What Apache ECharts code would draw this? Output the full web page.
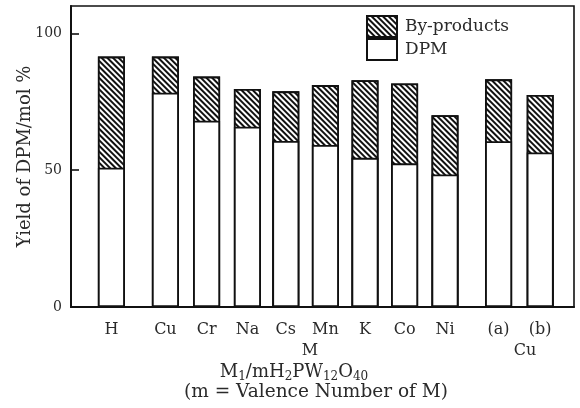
<!DOCTYPE html>
<html>
<head>
<meta charset="utf-8">
<script src="https://cdn.jsdelivr.net/npm/echarts@6/dist/echarts.min.js"></script>
<style>html,body{margin:0;padding:0;background:#fff}#c{width:580px;height:408px}</style>
</head>
<body>
<div id="c"></div>
<script>
const categories = ['H', 'Cu', 'Cr', 'Na', 'Cs', 'Mn', 'K', 'Co', 'Ni', '(a)', '(b)'];
const positions = [1.01, 2.36, 3.39, 4.41, 5.37, 6.36, 7.35, 8.34, 9.35, 10.69, 11.73];
const totalYield = [91.5, 91.5, 84.2, 79.7, 78.8, 81.1, 82.9, 81.7, 70.1, 83.2, 77.5];
const dpmYield = [50.9, 78.3, 68.1, 65.9, 60.7, 59.2, 54.5, 52.5, 48.4, 60.6, 56.5];
const yTickStep = 50;

const FONT = '"DejaVu Serif", "Liberation Serif", serif';
const TXT = '#2a2a2a';

const chart = echarts.init(document.getElementById('c'), null, {renderer: 'canvas'});
chart.setOption({
  animation: false,
  backgroundColor: '#fff',
  grid: {left: 71, right: 6, top: 6, bottom: 101, show: true, borderColor: '#111', borderWidth: 1.6, backgroundColor: 'transparent'},
  legend: {
    data: ['By-products', 'DPM'],
    orient: 'vertical',
    left: 361, top: 10,
    itemWidth: 30, itemHeight: 21, itemGap: 0,
    icon: 'rect',
    textStyle: {fontFamily: FONT, fontSize: 17, color: TXT, padding: [0, 0, 0, 3]}
  },
  xAxis: {
    type: 'value', min: 0, max: 12.575,
    axisLine: {show: true, lineStyle: {color: '#111', width: 2}},
    axisTick: {show: false}, axisLabel: {show: false}, splitLine: {show: false}
  },
  yAxis: {
    type: 'value', min: 0, max: 110, interval: yTickStep,
    name: 'Yield of DPM/mol %', nameLocation: 'middle', nameGap: 37, nameMoveOverlap: false,
    nameTextStyle: {fontFamily: FONT, fontSize: 18, color: TXT},
    axisLine: {show: true, lineStyle: {color: '#111', width: 2}},
    axisTick: {show: true, inside: true, length: 8, lineStyle: {color: '#111', width: 1.6}},
    axisLabel: {formatter: v => (v % yTickStep === 0 ? String(v) : ''), showMaxLabel: false,
      fontFamily: FONT, fontSize: 14, color: TXT, margin: 9},
    splitLine: {show: false}
  },
  series: [
    {
      name: 'By-products', type: 'bar', barWidth: 27, barGap: '-100%',
      data: positions.map((x, i) => [x, totalYield[i]]),
      itemStyle: {color: '#fff', borderColor: '#111', borderWidth: 1.8,
        decal: {symbol: 'rect', symbolSize: 1, dashArrayX: [1, 0], dashArrayY: [1.7, 1.7], rotation: Math.PI / 4, color: '#111', backgroundColor: '#fff'}}
    },
    {
      name: 'DPM', type: 'bar', barWidth: 27, barGap: '-100%',
      data: positions.map((x, i) => [x, dpmYield[i]]),
      itemStyle: {color: '#fff', borderColor: '#111', borderWidth: 1.8},
      label: {show: true, position: 'bottom', distance: 15, formatter: p => categories[p.dataIndex],
        fontFamily: FONT, fontSize: 16, color: TXT}
    }
  ],
  graphic: [
    {type: 'text', x: 310, y: 351, style: {text: 'M', font: '16px ' + FONT, fill: TXT, align: 'center', verticalAlign: 'middle'}},
    {type: 'text', x: 525, y: 351, style: {text: 'Cu', font: '16px ' + FONT, fill: TXT, align: 'center', verticalAlign: 'middle'}},
    {type: 'text', x: 294, y: 372, style: {
      text: '{n|M}{s|1}{n|/mH}{s|2}{n|PW}{s|12}{n|O}{s|40}',
      align: 'center', verticalAlign: 'middle', fill: TXT,
      rich: {
        n: {fontFamily: FONT, fontSize: 18, lineHeight: 22, color: TXT, verticalAlign: 'middle'},
        s: {fontFamily: FONT, fontSize: 12, lineHeight: 12, color: TXT, verticalAlign: 'bottom'}
      }}},
    {type: 'text', x: 316, y: 392, style: {text: '(m = Valence Number of M)', font: '18.5px ' + FONT, fill: TXT, align: 'center', verticalAlign: 'middle'}}
  ]
});
</script>
</body>
</html>
